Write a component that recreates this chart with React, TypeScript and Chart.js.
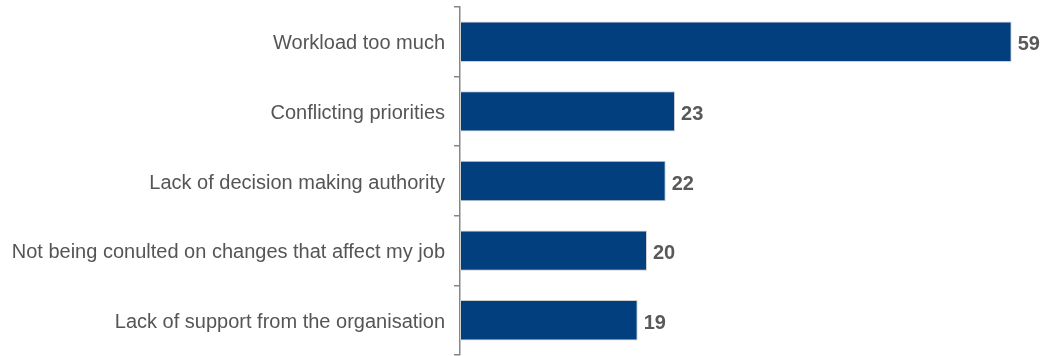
import React, { useEffect, useRef } from "react";
import { Chart, registerables } from "chart.js";

Chart.register(...registerables);

const categories: string[] = [
  "Workload too much",
  "Conflicting priorities",
  "Lack of decision making authority",
  "Not being conulted on changes that affect my job",
  "Lack of support from the organisation",
];
const values: number[] = [59, 23, 22, 20, 19];

const valueLabels = {
  id: "valueLabels",
  afterDatasetsDraw(chart: any) {
    const ctx = chart.ctx;
    const meta = chart.getDatasetMeta(0);
    ctx.save();
    ctx.font = "bold 20px 'Liberation Sans', Arial, sans-serif";
    ctx.fillStyle = "#595959";
    ctx.textAlign = "left";
    ctx.textBaseline = "middle";
    meta.data.forEach((bar: any, i: number) => {
      ctx.fillText(String(values[i]), bar.x + 6, bar.y + 3);
    });
    ctx.restore();
  },
};

export default function App() {
  const ref = useRef<HTMLCanvasElement>(null);
  useEffect(() => {
    if (!ref.current) return;
    const chart = new Chart(ref.current, {
      type: "bar",
      data: {
        labels: categories,
        datasets: [
          {
            data: values,
            backgroundColor: "#013F7F",
            borderColor: "#D0D0D0",
            borderWidth: 1,
            borderSkipped: false,
            barPercentage: 0.58,
            categoryPercentage: 1,
          },
        ],
      },
      options: {
        indexAxis: "y",
        animation: false,
        responsive: true,
        maintainAspectRatio: false,
        layout: { padding: { top: 7, bottom: 1, right: 21, left: 0 } },
        plugins: { legend: { display: false }, tooltip: { enabled: false } },
        scales: {
          x: { display: false, min: 0, max: 60 },
          y: {
            afterFit(scale: any) {
              scale.width = 460;
              scale.paddingTop = 0;
              scale.paddingBottom = 0;
            },
            border: { display: true, color: "#868686", width: 1.5 },
            grid: {
              drawOnChartArea: false,
              drawTicks: true,
              tickLength: 6,
              tickColor: "#868686",
              lineWidth: 1.5,
              offset: true,
            },
            ticks: {
              color: "#555555",
              padding: 9,
              labelOffset: 2,
              font: { family: "'Liberation Sans', Arial, sans-serif", size: 20 },
            },
          },
        },
      },
      plugins: [valueLabels],
    });
    return () => chart.destroy();
  }, []);
  return (
    <div style={{ position: "fixed", left: 0, top: 0, width: 1042, height: 356, background: "#fff" }}>
      <canvas ref={ref} />
    </div>
  );
}
